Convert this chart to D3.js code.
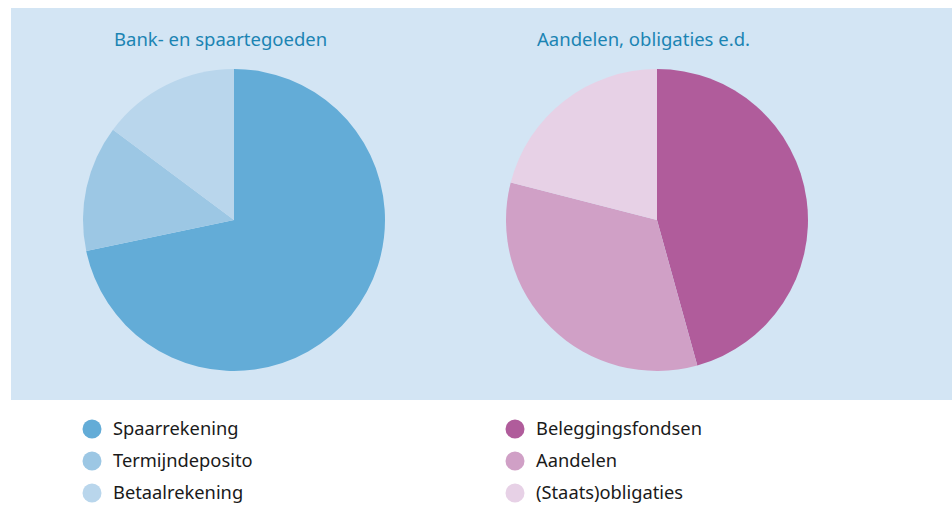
<!DOCTYPE html>
<html>
<head>
<meta charset="utf-8">
<script src="https://cdn.jsdelivr.net/npm/d3@7"></script>
<style>
  body { margin: 0; background: #fff; }
  text { font-family: "Noto Sans", "Open Sans", sans-serif; }
</style>
</head>
<body>
<div id="chart"></div>
<script>
// data (percent)
var bankLabels = ["Spaarrekening", "Termijndeposito", "Betaalrekening"];
var bankValues = [71.7, 13.5, 14.8];
var bankColors = ["#63acd7", "#9cc7e4", "#b9d6ec"];

var aandelenLabels = ["Beleggingsfondsen", "Aandelen", "(Staats)obligaties"];
var aandelenValues = [45.7, 33.3, 21];
var aandelenColors = ["#b05c9b", "#d0a0c6", "#e7d1e6"];

var titles = ["Bank- en spaartegoeden", "Aandelen, obligaties e.d."];

var width = 952,
    height = 505,
    radius = 151;

var svg = d3.select("#chart")
  .append("svg")
    .attr("width", width)
    .attr("height", height);

// light blue panel behind the pies
svg.append("rect")
    .attr("x", 11)
    .attr("y", 8)
    .attr("width", width - 11)
    .attr("height", 392)
    .attr("fill", "#d3e5f4");

var pie = d3.pie().sort(null).value(function(d) { return d; });
var arc = d3.arc().innerRadius(0).outerRadius(radius);

function drawPie(cx, title, values, colors) {
  var g = svg.append("g")
      .attr("transform", "translate(" + cx + ",220)");

  g.selectAll("path")
      .data(pie(values))
    .enter().append("path")
      .attr("d", arc)
      .attr("fill", function(d, i) { return colors[i]; });

  svg.append("text")
      .attr("x", cx - 120)
      .attr("y", 46)
      .attr("fill", "#1b84b3")
      .style("font-size", "18.5px")
      .text(title);
}

function drawLegend(x, labels, colors) {
  var item = svg.append("g")
      .attr("transform", "translate(" + x + ",429)")
    .selectAll("g")
      .data(labels)
    .enter().append("g")
      .attr("transform", function(d, i) { return "translate(0," + i * 32 + ")"; });

  item.append("circle")
      .attr("r", 9.5)
      .attr("fill", function(d, i) { return colors[i]; });

  item.append("text")
      .attr("x", 21)
      .attr("dy", "0.35em")
      .attr("fill", "#1a1a1a")
      .style("font-size", "18.3px")
      .text(function(d) { return d; });
}

drawPie(234, titles[0], bankValues, bankColors);
drawPie(657, titles[1], aandelenValues, aandelenColors);

drawLegend(92, bankLabels, bankColors);
drawLegend(515, aandelenLabels, aandelenColors);
</script>
</body>
</html>
